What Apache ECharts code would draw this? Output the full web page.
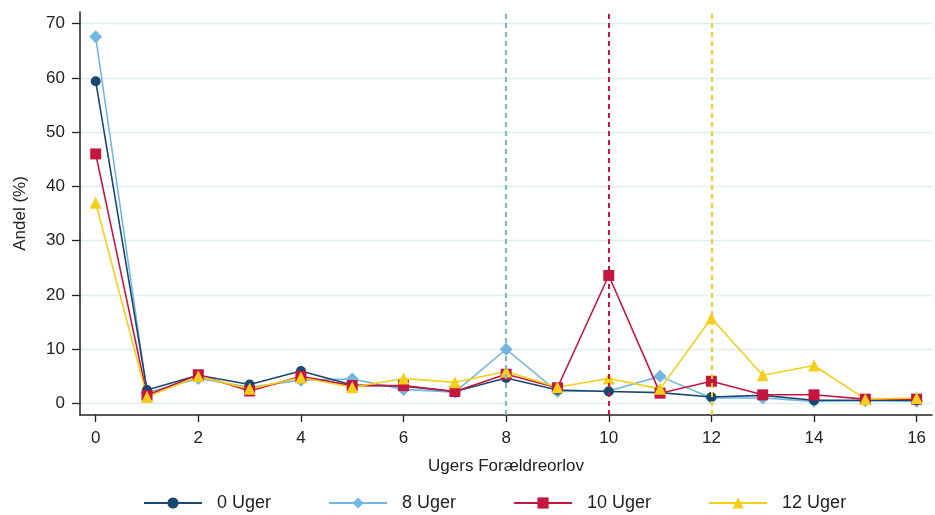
<!DOCTYPE html>
<html><head><meta charset="utf-8">
<script src="https://cdn.jsdelivr.net/npm/echarts@6/dist/echarts.min.js"></script>
<style>html,body{margin:0;padding:0;background:#fff}#c{width:935px;height:515px}</style>
</head><body><div id="c"></div>
<script>
const weeks = [0,1,2,3,4,5,6,7,8,9,10,11,12,13,14,15,16];
const xTicks = [0,2,4,6,8,10,12,14,16];
const yTicks = [0,10,20,30,40,50,60,70];
const uger0  = [59.4,2.5,5.2,3.5,6.0,3.4,3.2,2.2,4.7,2.5,2.2,2.0,1.2,1.5,0.6,0.6,0.6];
const uger8  = [67.6,2.0,4.6,3.0,4.3,4.5,2.6,2.1,10.0,2.2,2.3,5.0,1.0,1.0,0.4,0.5,0.4];
const uger10 = [46.0,1.5,5.3,2.3,5.0,3.3,3.3,2.2,5.4,2.9,23.6,1.9,4.1,1.6,1.6,0.8,0.8];
const uger12 = [37.0,1.2,5.0,2.7,4.8,3.0,4.6,3.9,5.9,3.0,4.6,2.7,15.7,5.2,7.0,0.8,1.0];
const names = ['0 Uger','8 Uger','10 Uger','12 Uger'];
const refLines = [null, 8, 10, 12];

const colors = ['#1a476f','#72b6e2','#c5163f','#f3ce1a'];
const symbols = ['circle','diamond','rect','triangle'];
const sizes = [10,13,11,12];
const seriesData = [uger0,uger8,uger10,uger12];

const font = 'Liberation Sans, Arial, sans-serif';
const chart = echarts.init(document.getElementById('c'));
chart.setOption({
  animation:false,
  grid:{left:80,right:3,top:12,bottom:100},
  legend:{
    top:489,left:138,itemWidth:58,itemHeight:14,itemGap:57,
    textStyle:{fontFamily:font,fontSize:18,color:'#222',padding:[0,0,0,10]},
    data:names
  },
  xAxis:{
    type:'value',min:-0.306,max:16.3,
    name:'Ugers Forældreorlov',nameLocation:'middle',nameGap:43,
    nameTextStyle:{fontFamily:font,fontSize:17,color:'#222'},
    axisLine:{show:true,onZero:false,lineStyle:{color:'#222',width:1.5}},
    axisTick:{show:true,length:7,lineStyle:{color:'#222',width:1.3},customValues:xTicks},
    axisLabel:{fontFamily:font,fontSize:17,color:'#222',margin:15,customValues:xTicks},
    splitLine:{show:false}
  },
  yAxis:{
    type:'value',min:-2.12,max:72.16,
    name:'Andel (%)',nameLocation:'middle',nameGap:51,nameRotate:90,
    nameTextStyle:{fontFamily:font,fontSize:17,color:'#222'},
    axisLine:{show:true,onZero:false,lineStyle:{color:'#222',width:1.5}},
    axisTick:{show:true,length:8,lineStyle:{color:'#222',width:1.3},customValues:yTicks},
    axisLabel:{fontFamily:font,fontSize:17,color:'#222',margin:15,customValues:yTicks},
    splitLine:{show:true,lineStyle:{color:'#e2edf1',width:1.3}}
  },
  series: names.map((n,i)=>({
    name:n,type:'line',
    data:weeks.map((w,j)=>[w,seriesData[i][j]]),
    symbol:symbols[i],symbolSize:sizes[i],showAllSymbol:true,
    itemStyle:{color:colors[i]},
    lineStyle:{color:colors[i],width:1.6},
    z: i===1?2:3,
    markLine: refLines[i]===null?undefined:{
      silent:true,symbol:['none','none'],label:{show:false},
      lineStyle:{color:colors[i],type:[5,4],width:2},
      data:[{xAxis:refLines[i]}]
    }
  }))
});
</script></body></html>
